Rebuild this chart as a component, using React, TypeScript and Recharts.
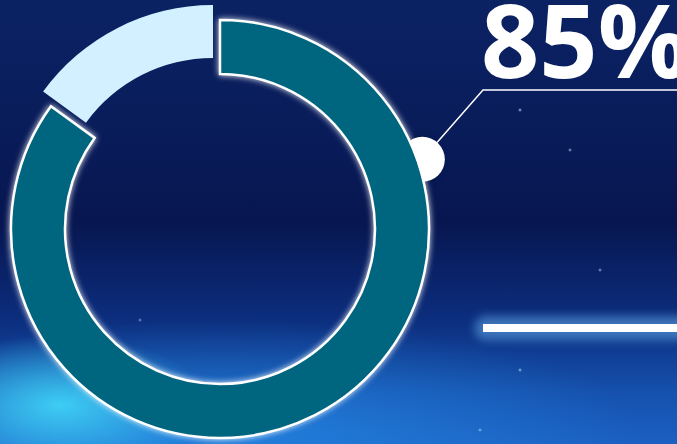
import { Cell, Pie, PieChart } from "recharts";

const slices = [
  { name: "完成", value: 85 },
  { name: "未完成", value: 15 },
];

const sliceColors = ["#00657f", "#d2f0ff"];

const W = 677;
const H = 444;
const CX = 220;
const CY = 229;
const OUTER = 209;
const INNER = 155;

const total = slices.reduce((s, d) => s + d.value, 0);
const pct = Math.round((slices[0].value / total) * 100);

// marker on the ring edge that the big number points to
const dotAngle = 19;
const dotR = OUTER + 5;
const dotX = CX + dotR * Math.cos((dotAngle * Math.PI) / 180);
const dotY = CY - dotR * Math.sin((dotAngle * Math.PI) / 180);

const bg = [
  "radial-gradient(ellipse 150px 70px at 60px 405px, rgba(70,230,255,0.8), rgba(40,170,255,0) 100%)",
  "radial-gradient(ellipse 420px 110px at 220px 430px, rgba(40,150,240,0.6), rgba(20,90,200,0) 100%)",
  "radial-gradient(circle 2px at 520px 110px, rgba(200,230,255,0.8), transparent)",
  "radial-gradient(circle 2px at 570px 150px, rgba(200,230,255,0.7), transparent)",
  "radial-gradient(circle 2px at 600px 270px, rgba(200,230,255,0.7), transparent)",
  "radial-gradient(circle 2px at 520px 370px, rgba(200,230,255,0.8), transparent)",
  "radial-gradient(circle 2px at 480px 430px, rgba(200,230,255,0.8), transparent)",
  "radial-gradient(circle 2px at 140px 320px, rgba(200,230,255,0.6), transparent)",
  "radial-gradient(circle 2px at 300px 400px, rgba(200,230,255,0.7), transparent)",
  "linear-gradient(180deg, #0b2263 0%, #091c5a 30%, #071650 50%, #0c2e7e 72%, #1550ac 88%, #1b60c2 100%)",
].join(", ");

export default function App() {
  return (
    <div
      style={{
        position: "fixed",
        left: 0,
        top: 0,
        width: W,
        height: H,
        overflow: "hidden",
        background: bg,
      }}
    >
      <PieChart width={W} height={H} margin={{ top: 0, right: 0, bottom: 0, left: 0 }}>
        {/* glow behind the horizontal bar */}
        <rect
          x={475}
          y={316}
          width={220}
          height={24}
          rx={10}
          fill="rgba(120,200,255,0.45)"
          style={{ filter: "blur(5px)" }}
        />
        <rect x={483} y={324} width={200} height={8} fill="#ffffff" />

        <Pie
          data={slices}
          dataKey="value"
          cx={CX}
          cy={CY}
          innerRadius={INNER}
          outerRadius={OUTER}
          startAngle={90}
          endAngle={-270}
          isAnimationActive={false}
        >
          {slices.map((d, i) => (
            <Cell
              key={d.name}
              fill={i === 0 ? sliceColors[0] : "transparent"}
              stroke={i === 0 ? "#ffffff" : "none"}
              strokeWidth={2.5}
              style={i === 0 ? { filter: "drop-shadow(0 0 3px rgba(255,255,255,0.9))" } : undefined}
            />
          ))}
        </Pie>

        {/* the small slice is pulled out along its middle angle */}
        <Pie
          data={slices}
          dataKey="value"
          cx={CX - 7}
          cy={CY - 14}
          innerRadius={INNER + 2}
          outerRadius={OUTER + 1}
          startAngle={90}
          endAngle={-270}
          isAnimationActive={false}
        >
          {slices.map((d, i) => (
            <Cell key={d.name} fill={i === 1 ? sliceColors[1] : "transparent"} stroke="none" />
          ))}
        </Pie>

        <polyline
          points={`${dotX},${dotY} 483,90 ${W},90`}
          fill="none"
          stroke="#ffffff"
          strokeWidth={1.5}
        />
        <circle
          cx={dotX}
          cy={dotY}
          r={22.5}
          fill="#ffffff"
          style={{ filter: "drop-shadow(-3px 1px 3px rgba(0,10,40,0.7))" }}
        />
        <text
          x={481}
          y={78}
          fill="#ffffff"
          fontFamily="'Open Sans', sans-serif"
          fontWeight={700}
          fontSize={102}
        >
          {pct}%
        </text>
      </PieChart>
    </div>
  );
}
